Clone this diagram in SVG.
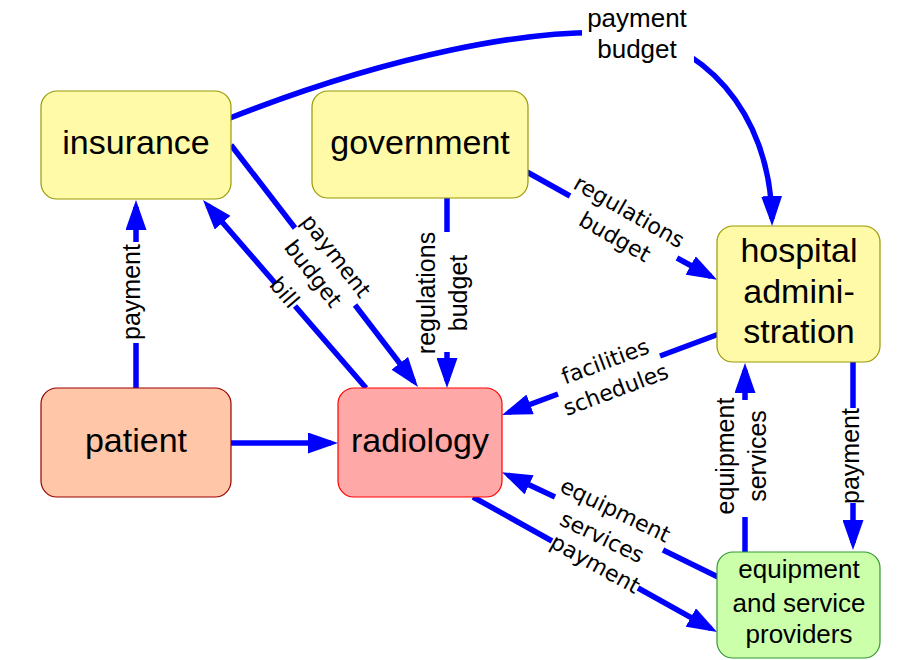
<svg xmlns="http://www.w3.org/2000/svg" width="920" height="660" viewBox="0 0 920 660">
<style>
  .node rect { stroke-width: 1.2; }
  .yellow rect { fill: #fffaa8; stroke: #999900; }
  .peach rect { fill: #ffc6a8; stroke: #990000; }
  .pink rect { fill: #ffa8a8; stroke: #ff0000; }
  .green rect { fill: #ccffaa; stroke: #339933; }
  .ntext { font-family: "Liberation Sans", Arial, sans-serif; font-size: 34px; text-anchor: middle; fill: #000; }
  .stext { font-family: "Liberation Sans", Arial, sans-serif; font-size: 26px; text-anchor: middle; fill: #000; }
  .edge { fill: none; stroke: #0000ff; stroke-width: 5.5; stroke-linecap: butt; }
  .arr { marker-end: url(#ah); }
  .lbl { font-family: "Liberation Sans", Arial, sans-serif; font-size: 25px; text-anchor: middle; fill: #000; }
  .dlbl { font-family: "DejaVu Sans", sans-serif; font-size: 22px; text-anchor: middle; fill: #000; }
</style>
<defs>
  <marker id="ah" markerUnits="userSpaceOnUse" viewBox="0 0 30 21" markerWidth="30" markerHeight="21" refX="23" refY="10.5" orient="auto">
    <path d="M0,0 L30,10.5 L0,21 z" fill="#0000ff"/>
  </marker>
</defs>
<rect width="920" height="660" fill="#ffffff"/>

<g id="connectors">
  <!-- insurance -> hospital (curve) -->
  <path class="edge arr" d="M230,118 C390,55 530,28 620,33 C700,38 770,110 772,219"/>
  <rect x="582" y="3" width="112" height="66" fill="#ffffff"/>
  <text class="lbl" x="637" y="27" style="font-size:26px">payment</text>
  <text class="lbl" x="637" y="58" style="font-size:26px">budget</text>

  <!-- patient -> insurance -->
  <path class="edge" d="M136,388 L136,343"/>
  <path class="edge arr" d="M136,242 L136,207"/>
  <text class="lbl" transform="translate(136,292) rotate(-90)" x="0" y="3.5">payment</text>

  <!-- patient -> radiology -->
  <path class="edge arr" d="M231,443 L331,443"/>

  <!-- insurance -> radiology -->
  <path class="edge" d="M231,145 L295,228"/>
  <path class="edge arr" d="M355,305 L413.7,381.5"/>
  <g transform="translate(323,266) rotate(52.2)">
    <text class="dlbl" x="0" y="-9">payment</text>
    <text class="dlbl" x="0" y="20">budget</text>
  </g>

  <!-- radiology -> insurance (bill) -->
  <path class="edge" d="M366,388 L295,306"/>
  <path class="edge arr" d="M275,283 L207.6,205.3"/>
  <text class="dlbl" transform="translate(284,293) rotate(49.1)" x="0" y="7">bill</text>

  <!-- government -> radiology -->
  <path class="edge" d="M447,198 L447,232"/>
  <path class="edge arr" d="M447,352 L447,381"/>
  <g transform="translate(447,293) rotate(-90)">
    <text class="lbl" x="0" y="-12">regulations</text>
    <text class="lbl" x="0" y="20">budget</text>
  </g>

  <!-- government -> hospital -->
  <path class="edge" d="M527,172 L570,196"/>
  <path class="edge arr" d="M677,258 L710.9,276.5"/>
  <g transform="translate(621,226) rotate(29.6)">
    <text class="dlbl" x="0" y="-9">regulations</text>
    <text class="dlbl" x="0" y="20">budget</text>
  </g>

  <!-- hospital -> radiology -->
  <path class="edge" d="M719,334 L660,356"/>
  <path class="edge arr" d="M558,394 L508.6,412.5"/>
  <g transform="translate(611,377) rotate(-20.5)">
    <text class="dlbl" x="0" y="-9">facilities</text>
    <text class="dlbl" x="0" y="21">schedules</text>
  </g>

  <!-- equipment providers -> radiology -->
  <path class="edge" d="M718,577 L663,550"/>
  <path class="edge arr" d="M555,497 L508.3,475.1"/>
  <g transform="translate(608,525) rotate(25.9)">
    <text class="dlbl" x="0" y="-9">equipment</text>
    <text class="dlbl" x="0" y="21">services</text>
  </g>

  <!-- radiology -> equipment providers -->
  <path class="edge" d="M473,497 L552,541"/>
  <path class="edge arr" d="M638,588 L710.9,628.6"/>
  <text class="dlbl" transform="translate(594,566) rotate(29)" x="0" y="5">payment</text>

  <!-- equipment providers -> hospital -->
  <path class="edge" d="M745,552 L745,517"/>
  <path class="edge arr" d="M745,400 L745,370"/>
  <g transform="translate(746,456) rotate(-90)">
    <text class="lbl" x="0" y="-12">equipment</text>
    <text class="lbl" x="0" y="20">services</text>
  </g>

  <!-- hospital -> equipment providers -->
  <path class="edge" d="M853,362 L853,408"/>
  <path class="edge arr" d="M853,503 L853,543"/>
  <text class="lbl" transform="translate(855,456) rotate(-90)" x="0" y="3.5">payment</text>
</g>

<g id="insurance" class="node yellow">
  <rect x="41" y="91" width="190" height="108" rx="16"/>
  <text class="ntext" x="136" y="154">insurance</text>
</g>
<g id="government" class="node yellow">
  <rect x="312" y="91" width="216" height="107" rx="16"/>
  <text class="ntext" x="420" y="154">government</text>
</g>
<g id="hospital" class="node yellow">
  <rect x="717" y="226" width="163" height="136" rx="16"/>
  <text class="ntext" x="799" y="262">hospital</text>
  <text class="ntext" x="799" y="303">admini-</text>
  <text class="ntext" x="799" y="343">stration</text>
</g>
<g id="patient" class="node peach">
  <rect x="41" y="388" width="190" height="109" rx="16"/>
  <text class="ntext" x="136" y="452">patient</text>
</g>
<g id="radiology" class="node pink">
  <rect x="338" y="388" width="164" height="109" rx="16"/>
  <text class="ntext" x="420" y="452">radiology</text>
</g>
<g id="providers" class="node green">
  <rect x="717" y="552" width="163" height="106" rx="16"/>
  <text class="stext" x="799" y="578">equipment</text>
  <text class="stext" x="799" y="612">and service</text>
  <text class="stext" x="799" y="643">providers</text>
</g>
</svg>
